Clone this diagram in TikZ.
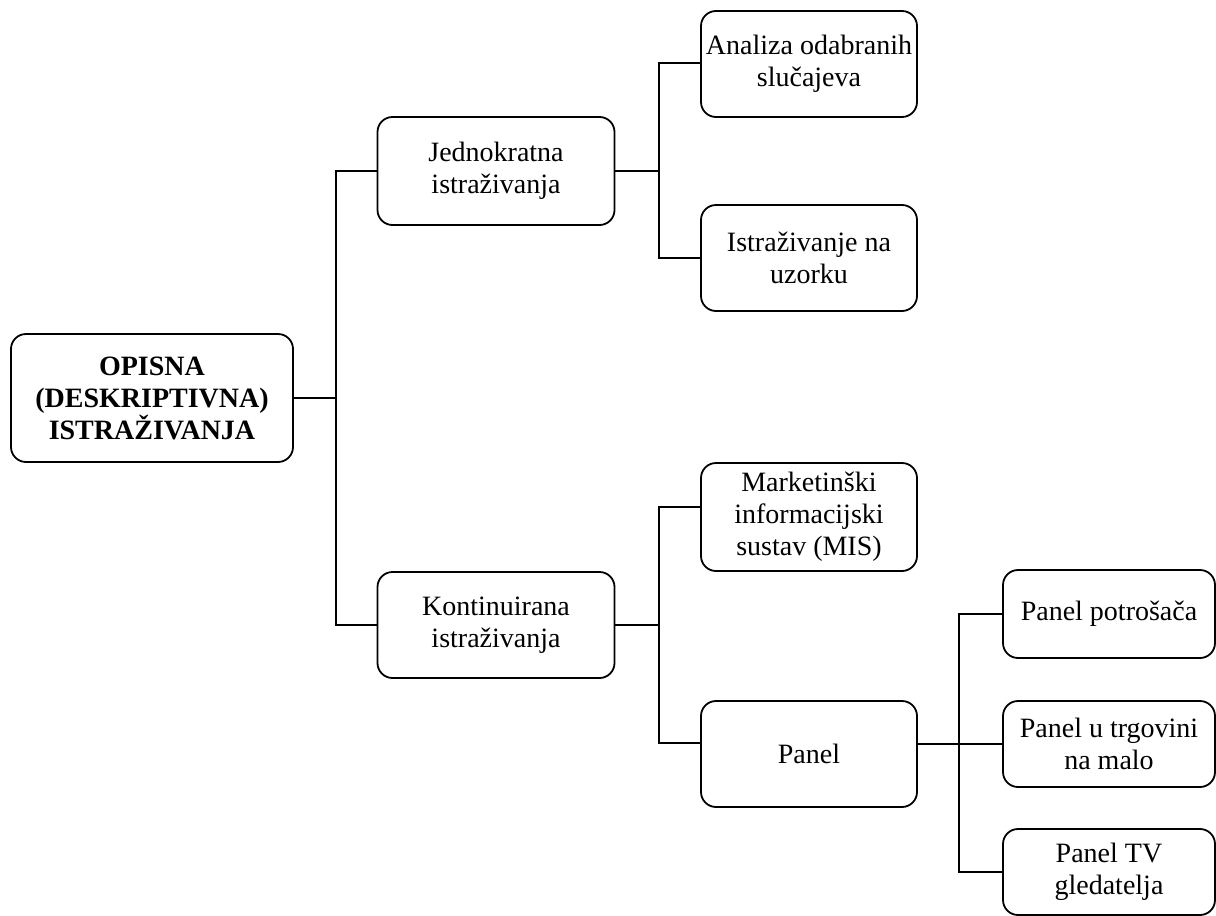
\documentclass[tikz,border=0pt]{standalone}
\usepackage{fontspec}
\setmainfont{Liberation Serif}
\begin{document}
\begin{tikzpicture}[x=1pt,y=-1pt,
  box/.style={draw=black, line width=1.8pt, rounded corners=15pt, align=center,
    inner sep=0pt, font=\fontsize{28}{32}\selectfont, text=black},
  link/.style={draw=black, line width=2pt}]
\useasboundingbox (0,0) rectangle (1216,916);
\node[box, minimum width=282, minimum height=128, font=\fontsize{28}{32}\selectfont\bfseries] (root) at (152,398) {OPISNA\\(DESKRIPTIVNA)\\ISTRAŽIVANJA};
\node[box, minimum width=237, minimum height=108] (jed) at (496,171) {Jednokratna\\istraživanja};
\node[box, minimum width=237, minimum height=106] (kon) at (496,625) {Kontinuirana\\istraživanja};
\node[box, minimum width=216, minimum height=106] (ana) at (809,64) {Analiza odabranih\\slučajeva};
\node[box, minimum width=216, minimum height=106] (ist) at (809,258) {Istraživanje na\\uzorku};
\node[box, minimum width=216, minimum height=108] (mar) at (809,517) {Marketinški\\informacijski\\sustav (MIS)};
\node[box, minimum width=216, minimum height=106] (pan) at (809,754) {Panel};
\node[box, minimum width=212, minimum height=88] (pp) at (1109,614) {Panel potrošača};
\node[box, minimum width=212, minimum height=86] (pu) at (1109,744) {Panel u trgovini\\na malo};
\node[box, minimum width=212, minimum height=86] (ptv) at (1109,872) {Panel TV\\gledatelja};
% connectors
\draw[link] (root.east) -- ++(42,0) |- (jed.west);
\draw[link] (root.east) -- ++(42,0) |- (kon.west);
\draw[link] (jed.east) -- ++(44,0) |- ([yshift=1pt]ana.west);
\draw[link] (jed.east) -- ++(44,0) |- (ist.west);
\draw[link] (kon.east) -- ++(44,0) |- ([yshift=10pt]mar.west);
\draw[link] (kon.east) -- ++(44,0) |- ([yshift=11pt]pan.west);
\draw[link] ([yshift=10pt]pan.east) -- (pu.west);
\draw[link] (pp.west) -- ++(-43,0) |- (ptv.west);
\end{tikzpicture}
\end{document}
